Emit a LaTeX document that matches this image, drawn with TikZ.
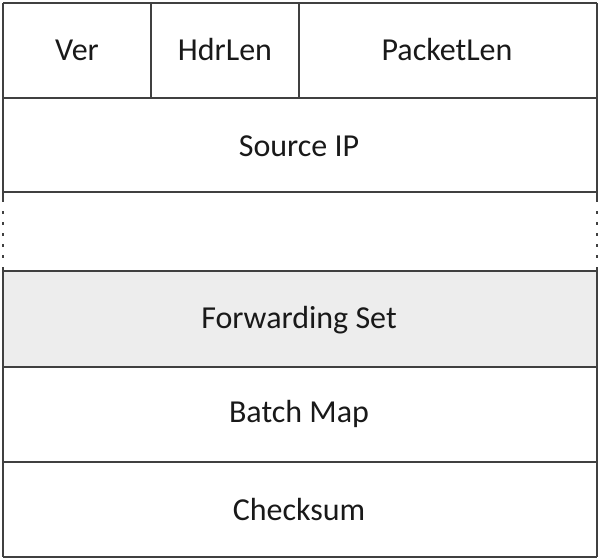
\documentclass[tikz,border=0pt]{standalone}
\usepackage{fontspec}
\setmainfont{Carlito}
\begin{document}
\begin{tikzpicture}[x=1pt,y=-1pt,
  cell/.style={draw=black!75,line width=1.4pt},
  lbl/.style={font=\fontsize{32}{38}\selectfont,text=black!90}]
\useasboundingbox (0,0) rectangle (600,559);
\fill[black!7] (3,271) rectangle (597,367);
% horizontal lines
\draw[cell] (3,3) -- (597,3);
\draw[cell] (3,98) -- (597,98);
\draw[cell] (3,192) -- (597,192);
\draw[cell] (3,271) -- (597,271);
\draw[cell] (3,367) -- (597,367);
\draw[cell] (3,462) -- (597,462);
\draw[cell] (3,557) -- (597,557);
% verticals
\draw[cell] (3,3) -- (3,202);
\draw[cell] (597,3) -- (597,202);
\draw[cell] (3,267) -- (3,557);
\draw[cell] (597,267) -- (597,557);
\draw[cell] (151,3) -- (151,98);
\draw[cell] (299,3) -- (299,98);
\draw[cell,dash pattern=on 3pt off 8pt] (3,211) -- (3,262);
\draw[cell,dash pattern=on 3pt off 8pt] (597,211) -- (597,262);
% labels
\node[lbl] (ver) at (77,50) {Ver};
\node[lbl] (hdr) at (225,50) {HdrLen};
\node[lbl] (plen) at (447,50) {PacketLen};
\node[lbl] (src) at (299,146) {Source IP};
\node[lbl] (fwd) at (299,320) {Forwarding Set};
\node[lbl] (bm) at (299,414) {Batch Map};
\node[lbl] (cs) at (299,510) {Checksum};
\end{tikzpicture}
\end{document}
